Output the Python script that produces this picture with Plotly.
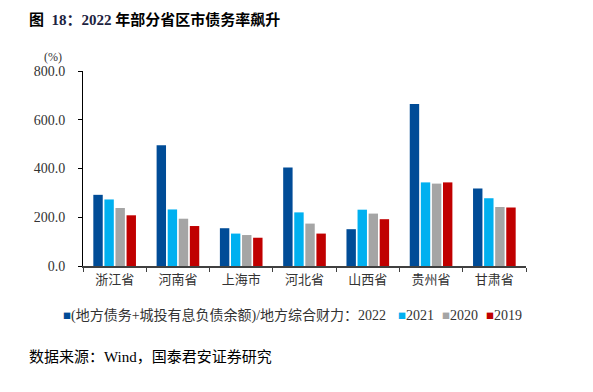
import plotly.graph_objects as go

categories = ["浙江省", "河南省", "上海市", "河北省", "山西省", "贵州省", "甘肃省"]
series_names = ["(地方债务+城投有息负债余额)/地方综合财力：2022", "2021", "2020", "2019"]
v2022 = [292, 495, 155, 404, 151, 665, 318]
v2021 = [273, 232, 133, 220, 231, 343, 278]
v2020 = [238, 194, 127, 174, 215, 338, 242]
v2019 = [208, 164, 116, 133, 192, 343, 240]
y_ticks = [0, 200, 400, 600, 800]

colors = ["#004C97", "#00B0F0", "#A5A5A5", "#C00000"]
values = [v2022, v2021, v2020, v2019]

W, H = 593, 392
L, R, T, B = 83, 67, 71, 126
pw = W - L - R
ph = H - T - B

def px2paper_x(px):
    return (px - L) / pw

def px2paper_y(py):
    return (H - B - py) / ph

CJK = "Liberation Serif, Noto Sans CJK SC, sans-serif"

fig = go.Figure()
for name, vals, c in zip(series_names, values, colors):
    fig.add_trace(go.Bar(x=categories, y=vals, name=name, showlegend=False,
                         marker=dict(color=c, line=dict(width=0))))

# compact legend (reference style: small square immediately followed by label)
legend_x = [62, 397, 441, 485]   # left pixel of each legend square
legend_y = 315
annotations = []
for name, c, lx in zip(series_names, colors, legend_x):
    annotations.append(dict(text="■", xref="paper", yref="paper", x=px2paper_x(lx - 1), y=px2paper_y(legend_y),
                            showarrow=False, xanchor="left", yanchor="middle",
                            font=dict(family="Noto Sans CJK SC", size=8, color=c)))
    annotations.append(dict(text=name, xref="paper", yref="paper", x=px2paper_x(lx + 7), y=px2paper_y(legend_y),
                            showarrow=False, xanchor="left", yanchor="middle",
                            font=dict(family=CJK, size=14, color="#333333")))

annotations += [
    dict(text="(%)", xref="paper", yref="paper", x=px2paper_x(53), y=px2paper_y(57),
         showarrow=False, xanchor="center", yanchor="middle", font=dict(family=CJK, size=12, color="#333333")),
    dict(text="数据来源：Wind，国泰君安证券研究", xref="paper", yref="paper", x=px2paper_x(27),
         y=px2paper_y(357), showarrow=False, xanchor="left", yanchor="middle",
         font=dict(family=CJK, size=15, color="#000000")),
]

fig.update_layout(
    width=W, height=H,
    margin=dict(l=L, r=R, t=T, b=B, autoexpand=False),
    paper_bgcolor="white", plot_bgcolor="white",
    barmode="group", bargap=0.3, bargroupgap=0.15,
    showlegend=False,
    font=dict(family=CJK, size=12, color="#333333"),
    title=dict(text="<b>图  <span style='color:#1c2340'>18：2022</span> 年部分省区市债务率飙升</b>",
               x=29 / W, xanchor="left", y=1 - 20 / H, yanchor="middle",
               font=dict(family=CJK, size=15, color="#000000")),
    xaxis=dict(showline=True, linecolor="#404040", linewidth=2, ticks="outside", tickson="boundaries",
               ticklen=4, tickcolor="#404040", showgrid=False,
               tickfont=dict(family=CJK, size=13, color="#333333")),
    yaxis=dict(range=[0, 800], tickvals=y_ticks, tickformat=".1f", showline=True, linecolor="#000000",
               linewidth=1, ticks="outside", ticklen=4, tickcolor="#000000", showgrid=False, zeroline=False,
               ticklabelstandoff=10,
               tickfont=dict(family=CJK, size=14, color="#333333")),
    annotations=annotations,
)

fig.write_html("out.html", config={"displayModeBar": False},
               post_script="document.body.style.margin='0';")
